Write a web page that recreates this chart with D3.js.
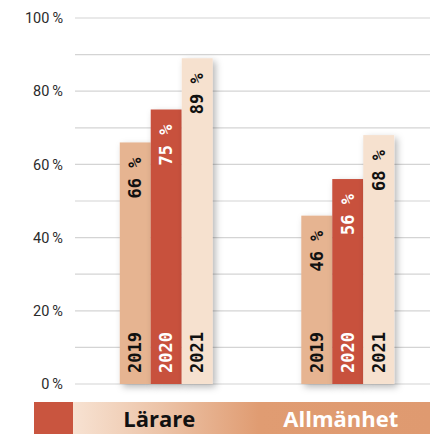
<!DOCTYPE html>
<html>
<head>
<meta charset="utf-8">
<script src="https://cdn.jsdelivr.net/npm/d3@7"></script>
<style>
  html, body { margin: 0; padding: 0; background: #fff; }
  svg { display: block; }
</style>
</head>
<body>
<svg></svg>
<script>
// data
const groups = ["Lärare", "Allmänhet"];
const years = ["2019", "2020", "2021"];
const lararValues = [66, 75, 89];
const allmanhetValues = [46, 56, 68];
const yTicks = [0, 20, 40, 60, 80, 100];
const gridTicks = [0, 10, 20, 30, 40, 50, 60, 70, 80, 90, 100];

const width = 430;
const height = 434;
const svg = d3.select("svg").attr("width", width).attr("height", height);

const yearColor = { "2019": "#e6b491", "2020": "#c8513e", "2021": "#f6e1cf" };
const labelColor = { "2019": "#111", "2020": "#fff", "2021": "#111" };

const rows = groups.map((g, i) => ({
  group: g,
  values: years.map((yr, j) => ({ year: yr, value: (i === 0 ? lararValues : allmanhetValues)[j] }))
}));

const y = d3.scaleLinear().domain([0, 100]).range([384, 18]);
const x0 = d3.scaleBand().domain(groups).range([84, 430]).paddingInner(0.488).paddingOuter(0.197);
const x1 = d3.scaleBand().domain(years).range([0, x0.bandwidth()]);

const defs = svg.append("defs");
const shadow = defs.append("filter").attr("id", "shadow")
    .attr("x", "-20%").attr("y", "-10%").attr("width", "160%").attr("height", "130%");
shadow.append("feDropShadow")
    .attr("dx", 3).attr("dy", 3).attr("stdDeviation", 3.5)
    .attr("flood-color", "#000").attr("flood-opacity", 0.28);

// gridlines
svg.append("g").selectAll("line")
  .data(gridTicks)
  .enter().append("line")
    .attr("x1", 75).attr("x2", width)
    .attr("y1", d => y(d)).attr("y2", d => y(d))
    .attr("stroke", "#d4d4d4").attr("stroke-width", 1.2);

// y labels
svg.append("g").selectAll("text")
  .data(yTicks)
  .enter().append("text")
    .attr("x", 63).attr("y", d => y(d))
    .attr("dy", "0.36em")
    .attr("text-anchor", "end")
    .attr("font-family", "Roboto, sans-serif")
    .attr("font-size", 14.5)
    .attr("fill", "#2b2b2b")
    .text(d => d + "\u2009%");

// bars
const grp = svg.append("g").selectAll("g")
  .data(rows)
  .enter().append("g")
    .attr("transform", d => `translate(${x0(d.group)},0)`);

const bar = grp.selectAll("g")
  .data(d => d.values)
  .enter().append("g");

bar.append("rect")
    .attr("x", d => x1(d.year))
    .attr("y", d => y(d.value))
    .attr("width", x1.bandwidth())
    .attr("height", d => y(0) - y(d.value))
    .attr("fill", d => yearColor[d.year])
    .attr("filter", "url(#shadow)");

const labelFont = "'DejaVu Sans Mono', monospace";

// value labels
bar.append("text")
    .attr("transform", d => `translate(${x1(d.year) + x1.bandwidth() / 2},${y(d.value) + 15}) rotate(-90)`)
    .attr("dy", "0.36em")
    .attr("text-anchor", "end")
    .attr("font-family", labelFont)
    .attr("font-weight", "bold")
    .attr("font-size", 17)
    .attr("fill", d => labelColor[d.year])
    .text(d => d.value + " %");

// year labels
bar.append("text")
    .attr("transform", d => `translate(${x1(d.year) + x1.bandwidth() / 2},${y(0) - 11}) rotate(-90)`)
    .attr("dy", "0.36em")
    .attr("text-anchor", "start")
    .attr("font-family", labelFont)
    .attr("font-weight", "bold")
    .attr("font-size", 17)
    .attr("fill", d => labelColor[d.year])
    .text(d => d.year);

// legend
const grad = defs.append("linearGradient").attr("id", "legendGrad")
    .attr("x1", "0%").attr("x2", "100%").attr("y1", "0%").attr("y2", "0%");
grad.append("stop").attr("offset", "0%").attr("stop-color", "#f7e2d2");
grad.append("stop").attr("offset", "25%").attr("stop-color", "#ecc3a7");
grad.append("stop").attr("offset", "52%").attr("stop-color", "#e09c72");
grad.append("stop").attr("offset", "100%").attr("stop-color", "#df9a70");

svg.append("rect")
    .attr("x", 34).attr("y", 402).attr("width", 39).attr("height", 32)
    .attr("fill", "#c9553f");
svg.append("rect")
    .attr("x", 73).attr("y", 402).attr("width", width - 73).attr("height", 32)
    .attr("fill", "url(#legendGrad)");

svg.append("g").selectAll("text")
  .data(groups)
  .enter().append("text")
    .attr("x", d => x0(d) + x0.bandwidth() / 2 - 7)
    .attr("y", 427)
    .attr("text-anchor", "middle")
    .attr("font-family", "'Open Sans', sans-serif")
    .attr("font-weight", "bold")
    .attr("font-size", 22)
    .attr("fill", (d, i) => i === 0 ? "#111" : "#fff")
    .text(d => d);
</script>
</body>
</html>
